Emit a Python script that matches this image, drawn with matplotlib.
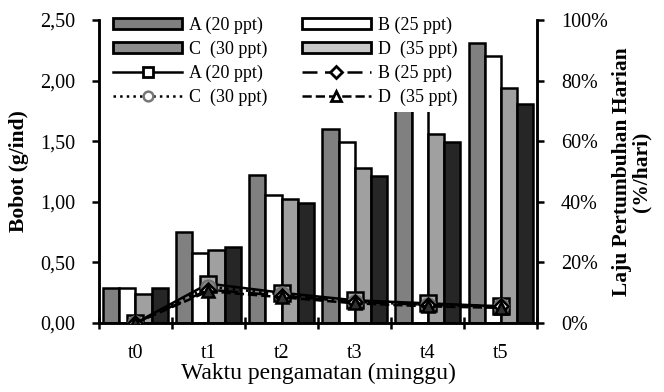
import matplotlib
matplotlib.use("Agg")
import matplotlib.pyplot as plt
import numpy as np
from matplotlib.patches import Patch
from matplotlib.lines import Line2D

plt.rcParams['font.family'] = ['Liberation Serif', 'DejaVu Serif']

categories = ['t0', 't1', 't2', 't3', 't4', 't5']
series_names = ['A (20 ppt)', 'B (25 ppt)', 'C  (30 ppt)', 'D  (35 ppt)']
bobot_A = [0.29, 0.75, 1.22, 1.60, 1.95, 2.31]
bobot_B = [0.29, 0.58, 1.06, 1.49, 1.86, 2.20]
bobot_C = [0.24, 0.60, 1.02, 1.28, 1.56, 1.94]
bobot_D = [0.29, 0.63, 0.99, 1.21, 1.49, 1.81]
laju_A = [0.0, 13.0, 10.0, 7.5, 6.5, 5.5]
laju_B = [0.0, 11.0, 9.0, 7.0, 6.0, 5.5]
laju_C = [0.0, 12.0, 9.5, 7.0, 6.0, 5.5]
laju_D = [0.0, 10.5, 8.5, 6.5, 5.5, 5.0]
left_ticks = [0, 0.5, 1.0, 1.5, 2.0, 2.5]
right_ticks = [0, 20, 40, 60, 80, 100]

bar_colors = ['#808080', '#ffffff', '#a0a0a0', '#262626']
legend_bar_colors = ['#7f7f7f', '#ffffff', '#8c8c8c', '#c8c8c8']

fig = plt.figure(figsize=(6.64, 3.92), dpi=100)
ax = fig.add_axes([0.149, 0.176, 0.660, 0.773])
x = np.arange(len(categories))
w = 0.22
bars = [bobot_A, bobot_B, bobot_C, bobot_D]
for i, (vals, c) in enumerate(zip(bars, bar_colors)):
    ax.bar(x + (i - 1.5) * w, vals, w, color=c, edgecolor='black', linewidth=1.8, zorder=2)

tick_fs = 14.5
ax.set_xlim(-0.5, 5.5)
ax.set_ylim(0, 2.5)
ax.set_yticks(left_ticks)
ax.set_yticklabels([f"{v:.2f}".replace('.', ',') for v in left_ticks], fontsize=tick_fs)
ax.set_xticks(np.arange(-0.5, 6.0, 1.0))
ax.set_xticklabels([])
ax.set_xticks(x, minor=True)
ax.set_xticklabels(categories, minor=True, fontsize=tick_fs)
ax.tick_params(axis='x', which='major', direction='inout', length=9, width=1.8)
ax.tick_params(axis='x', which='minor', length=0, pad=15)
ax.tick_params(axis='y', direction='out', length=5, width=1.8, pad=12)
ax.spines['top'].set_visible(False)
for s in ['left', 'bottom', 'right']:
    ax.spines[s].set_linewidth(1.8)
ax.set_ylabel('Bobot (g/ind)', fontsize=15.5, fontweight='bold', labelpad=8)
ax.set_xlabel('Waktu pengamatan (minggu)', fontsize=17, labelpad=0)

ax2 = ax.twinx()
ax2.set_ylim(0, 100)
ax2.set_yticks(right_ticks)
ax2.set_yticklabels([f"{v}%" for v in right_ticks], fontsize=tick_fs)
ax2.tick_params(axis='y', direction='out', length=5, width=1.8, pad=12)
ax2.spines['top'].set_visible(False)
for s in ['left', 'bottom', 'right']:
    ax2.spines[s].set_linewidth(1.8)
ax2.set_ylabel('Laju Pertumbuhan Harian\n(%/hari)', fontsize=15.5, fontweight='bold', linespacing=1.0, labelpad=3)

ms = 12
ax2.plot(x, laju_A, linestyle='-', color='black', lw=1.8, marker='s', ms=ms, mfc='#a8a8a8', mec='black', mew=1.8, zorder=3)
ax2.plot(x, laju_C, linestyle=':', color='black', lw=1.8, marker='o', ms=ms*0.85, mfc='#8a8a8a', mec='#707070', mew=1.5, zorder=4)
ax2.plot(x, laju_B, linestyle=(0, (8, 4)), color='black', lw=1.8, marker='D', ms=ms*0.6, mfc='white', mec='black', mew=1.8, zorder=5)
ax2.plot(x, laju_D, linestyle='--', color='black', lw=1.8, marker='^', ms=ms*0.7, mfc='#303030', mec='black', mew=1.8, zorder=6)

lh = [
    Patch(facecolor=legend_bar_colors[0], edgecolor='black', linewidth=2, label=series_names[0]),
    Patch(facecolor=legend_bar_colors[2], edgecolor='black', linewidth=2, label=series_names[2]),
    Line2D([], [], ls='-', color='black', lw=1.8, marker='s', ms=7, mfc='white', mec='black', mew=2, label=series_names[0]),
    Line2D([], [], ls=':', color='black', lw=1.8, marker='o', ms=7, mfc='white', mec='#777777', mew=1.8, label=series_names[2]),
    Patch(facecolor=legend_bar_colors[1], edgecolor='black', linewidth=2, label=series_names[1]),
    Patch(facecolor=legend_bar_colors[3], edgecolor='black', linewidth=2, label=series_names[3]),
    Line2D([], [], ls=(0, (6, 3)), color='black', lw=1.8, marker='D', ms=6, mfc='white', mec='black', mew=2, label=series_names[1]),
    Line2D([], [], ls='--', color='black', lw=1.8, marker='^', ms=7, mfc='white', mec='black', mew=2, label=series_names[3]),
]
leg = ax2.legend(handles=lh, ncol=2, loc='upper left', bbox_to_anchor=(0.0, 1.06),
                 fontsize=13, handlelength=3.8, handleheight=0.55, handletextpad=0.4,
                 columnspacing=1.9, labelspacing=0.38, frameon=True, framealpha=1,
                 facecolor='white', edgecolor='none', borderpad=0.3, borderaxespad=0.5)
leg.set_zorder(10)

fig.savefig('out.png', dpi=100)
